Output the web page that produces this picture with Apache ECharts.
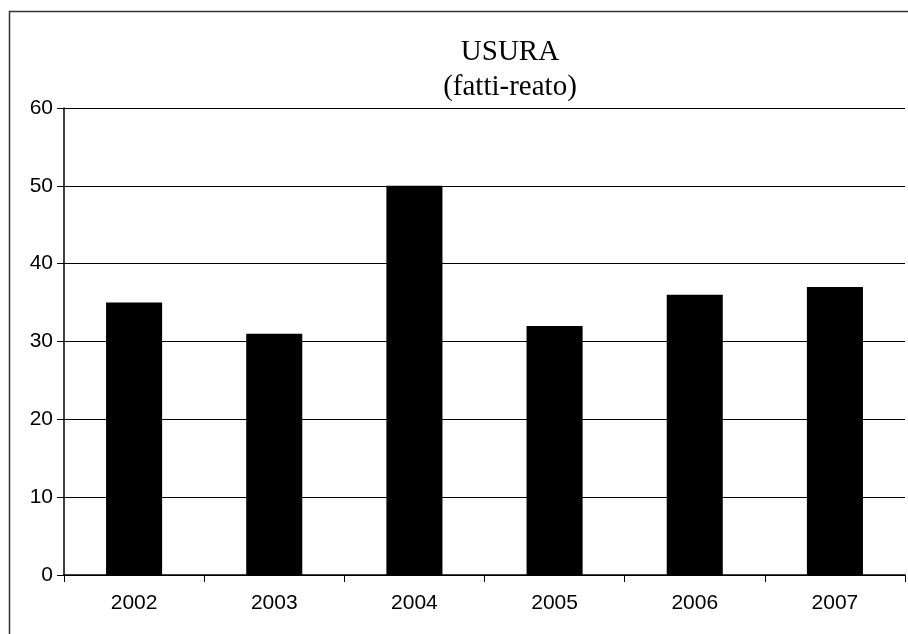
<!DOCTYPE html>
<html>
<head>
<meta charset="utf-8">
<script src="https://cdn.jsdelivr.net/npm/echarts@6/dist/echarts.min.js"></script>
<style>
  html, body { margin: 0; padding: 0; background: #fff; }
  #chart { width: 908px; height: 634px; }
</style>
</head>
<body>
<div id="chart"></div>
<script>
const years = ['2002', '2003', '2004', '2005', '2006', '2007']
const fattiReato = [35, 31, 50, 32, 36, 37]
const yTicks = { min: 0, max: 60, interval: 10 }

const chart = echarts.init(document.getElementById('chart'))
chart.setOption({
  backgroundColor: '#fff',
  animation: false,
  title: {
    text: 'USURA\n(fatti-reato)',
    left: 505,
    textAlign: 'center',
    top: 30,
    textStyle: {
      fontFamily: 'Liberation Serif',
      fontWeight: 'normal',
      fontSize: 29,
      lineHeight: 35,
      color: '#000'
    }
  },
  graphic: [{
    type: 'rect',
    shape: { x: 9.5, y: 11.5, width: 910, height: 640 },
    style: { fill: 'none', stroke: '#333', lineWidth: 1.5 },
    silent: true
  }],
  grid: { left: 64, right: 3, top: 108, bottom: 59 },
  xAxis: {
    type: 'category',
    data: years,
    axisLine: { lineStyle: { color: '#000', width: 1.5 } },
    axisTick: { show: true, alignWithLabel: false, length: 7, lineStyle: { color: '#000' } },
    axisLabel: { color: '#000', fontFamily: 'Liberation Sans', fontSize: 21, margin: 18 }
  },
  yAxis: {
    type: 'value',
    min: yTicks.min,
    max: yTicks.max,
    interval: yTicks.interval,
    axisLine: { show: true, lineStyle: { color: '#000', width: 1.5 } },
    axisTick: { show: true, length: 7, lineStyle: { color: '#000' } },
    axisLabel: { color: '#000', fontFamily: 'Liberation Sans', fontSize: 21, margin: 11 },
    splitLine: { show: true, lineStyle: { color: '#000', width: 1.2 } }
  },
  series: [{
    type: 'bar',
    data: fattiReato,
    barWidth: '40%',
    itemStyle: { color: '#000' }
  }]
})
</script>
</body>
</html>
